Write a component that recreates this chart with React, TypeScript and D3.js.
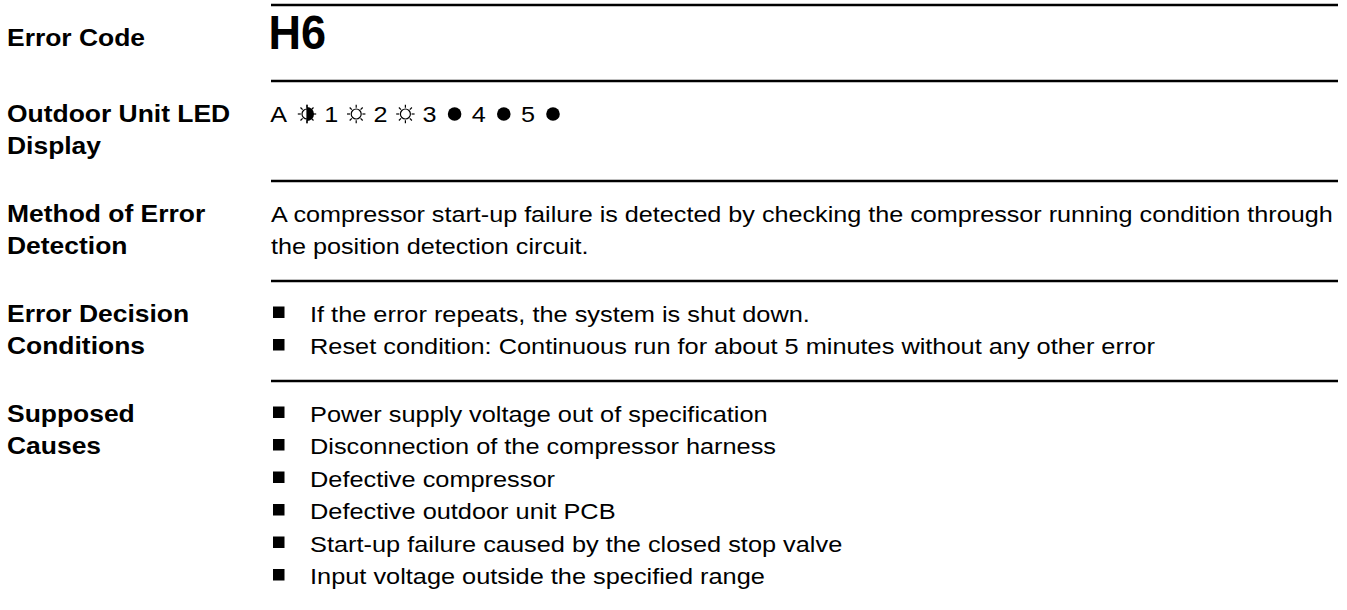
import * as d3 from "d3";

// ---- content ----
const errorCode = "H6";

const rowLabels = [
  ["Error Code"],
  ["Outdoor Unit LED", "Display"],
  ["Method of Error", "Detection"],
  ["Error Decision", "Conditions"],
  ["Supposed", "Causes"],
];

const ledNames = ["A", "1", "2", "3", "4", "5"];
const ledStates = ["blink", "on", "on", "off", "off", "off"];

const detectionLines = [
  "A compressor start-up failure is detected by checking the compressor running condition through",
  "the position detection circuit.",
];

const decisionBullets = [
  "If the error repeats, the system is shut down.",
  "Reset condition: Continuous run for about 5 minutes without any other error",
];

const causeBullets = [
  "Power supply voltage out of specification",
  "Disconnection of the compressor harness",
  "Defective compressor",
  "Defective outdoor unit PCB",
  "Start-up failure caused by the closed stop valve",
  "Input voltage outside the specified range",
];

const W = 1347;
const H = 610;
const labelX = 8;
const colX = 271;
const colRight = 1338;
const font = "'Liberation Sans', Arial, Helvetica, sans-serif";
const stretch = 1.145; // the source text is a bit wider than plain Arial

// row top rules
const rowTops = [5, 81, 181, 281, 381];

// baseline of n-th line inside a row
const lineY = d3.scaleLinear().domain([0, 1]).range([40.5, 73]);

const ledX = d3.scaleLinear().domain([0, ledNames.length - 1]).range([307, 553]);

const Sun = ({ cx, cy, half }: { cx: number; cy: number; half?: boolean }) => {
  const r = 5;
  const angles = d3.range(8).map((i) => (i * Math.PI) / 4);
  const arc = d3.arc()({
    innerRadius: 0,
    outerRadius: 7,
    startAngle: 0,
    endAngle: Math.PI,
  } as any) as string;
  return (
    <g transform={`translate(${cx},${cy})`}>
      {angles.map((a, i) => (
        <line
          key={i}
          x1={Math.cos(a) * 6.2}
          y1={Math.sin(a) * 6.2}
          x2={Math.cos(a) * 9.2}
          y2={Math.sin(a) * 9.2}
          stroke="#000"
          strokeWidth={1.2}
        />
      ))}
      <circle r={r} fill="#fff" stroke="#000" strokeWidth={1.2} />
      {half && <path d={arc} fill="#000" />}
      {half && <line x1={0} x2={0} y1={-9.2} y2={9.2} stroke="#000" strokeWidth={1.2} />}
    </g>
  );
};

const Body = ({
  x,
  y,
  children,
  anchor,
  sx,
}: {
  x: number;
  y: number;
  children: any;
  anchor?: string;
  sx?: number;
}) => (
  <text
    transform={`translate(${x},${y}) scale(${sx || stretch},1)`}
    fontSize={22}
    fontFamily={font}
    textAnchor={anchor || "start"}
  >
    {children}
  </text>
);

const Bullets = ({ items, top }: { items: string[]; top: number }) => {
  const y = d3.scaleLinear().domain([0, 1]).range([top + lineY(0), top + lineY(1)]);
  return (
    <g>
      {items.map((t, i) => (
        <g key={i}>
          <rect x={273} y={y(i) - 15} width={11.5} height={11.5} fill="#000" />
          <Body x={310} y={y(i)} sx={1.152}>
            {t}
          </Body>
        </g>
      ))}
    </g>
  );
};

export default function App() {
  const ledY = rowTops[1] + 33;
  return (
    <svg
      width={W}
      height={H}
      style={{ position: "absolute", left: 0, top: 0, background: "#fff" }}
    >
      {rowTops.map((y, i) => (
        <line key={i} x1={colX} x2={colRight} y1={y} y2={y} stroke="#000" strokeWidth={2.6} />
      ))}

      {rowLabels.map((lines, r) =>
        lines.map((t, j) => (
          <text
            key={`${r}-${j}`}
            transform={`translate(${labelX - 1},${rowTops[r] + lineY(j)}) scale(1.15,1)`}
            fontSize={23}
            fontWeight="bold"
            fontFamily={font}
          >
            {t}
          </text>
        ))
      )}

      <text
        transform={`translate(268.5,48.5) scale(0.92,1)`}
        fontSize={49}
        fontWeight="bold"
        fontFamily={font}
      >
        {errorCode}
      </text>

      {ledNames.map((n, i) => (
        <g key={n}>
          <Body x={ledX(i) - (i === 0 ? 20 : 18)} y={rowTops[1] + lineY(0)} anchor="end">
            {n}
          </Body>
          {ledStates[i] === "off" ? (
            <circle cx={ledX(i)} cy={ledY} r={6.8} fill="#000" />
          ) : (
            <Sun cx={ledX(i)} cy={ledY} half={ledStates[i] === "blink"} />
          )}
        </g>
      ))}

      {detectionLines.map((t, i) => (
        <Body key={i} x={colX} y={rowTops[2] + lineY(i)}>
          {t}
        </Body>
      ))}

      <Bullets items={decisionBullets} top={rowTops[3]} />
      <Bullets items={causeBullets} top={rowTops[4]} />
    </svg>
  );
}
